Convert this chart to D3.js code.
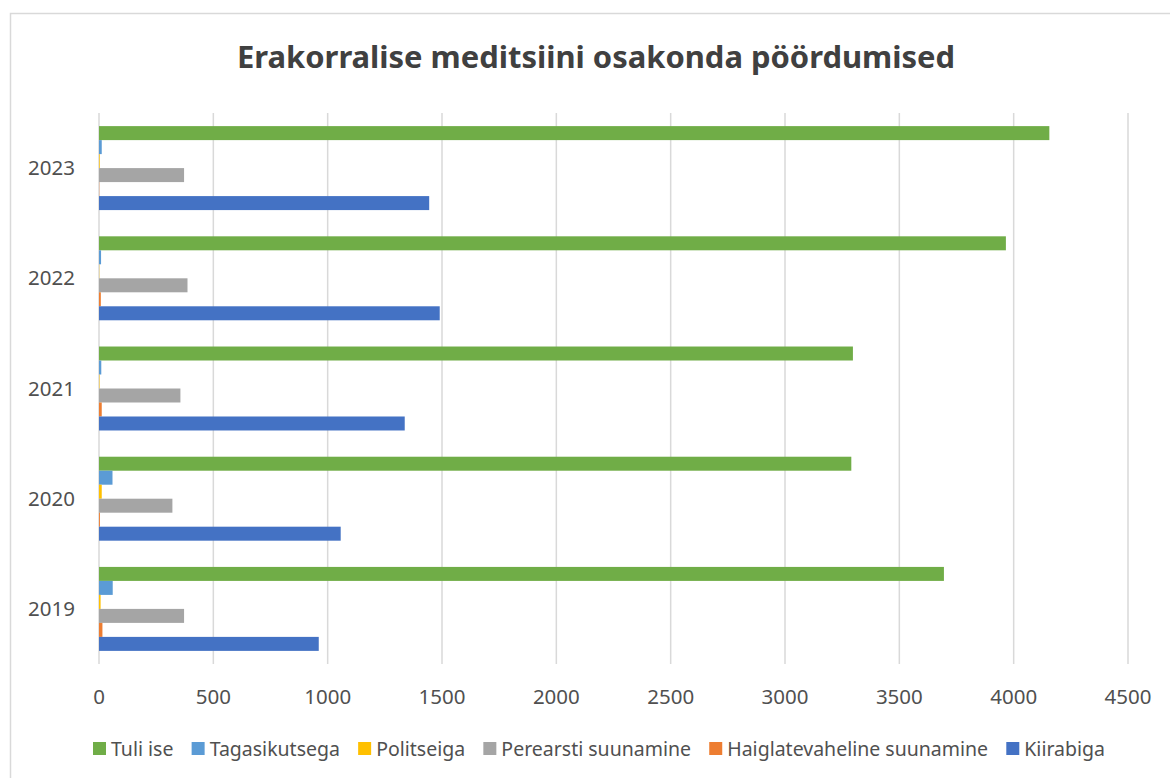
<!DOCTYPE html>
<html>
<head>
<meta charset="utf-8">
<script src="https://cdn.jsdelivr.net/npm/d3@7"></script>
<style>
  body { margin: 0; background: #fff; }
  svg { display: block; font-family: "Noto Sans", "Open Sans", sans-serif; }
</style>
</head>
<body>
<svg id="chart" width="1170" height="778"></svg>
<script>
// Data
var years = ["2019", "2020", "2021", "2022", "2023"];
var seriesNames = ["Tuli ise", "Tagasikutsega", "Politseiga", "Perearsti suunamine", "Haiglatevaheline suunamine", "Kiirabiga"];
var seriesColors = ["#70AD47", "#5B9BD5", "#FFC000", "#A5A5A5", "#ED7D31", "#4472C4"];
var tuliIse = [3695, 3290, 3297, 3966, 4156];
var tagasikutsega = [60, 59, 10, 9, 12];
var politseiga = [7, 12, 2, 1, 3];
var perearsti = [372, 321, 356, 387, 372];
var haiglatevaheline = [15, 4, 12, 8, 1];
var kiirabiga = [961, 1057, 1337, 1490, 1444];
var xTicks = [0, 500, 1000, 1500, 2000, 2500, 3000, 3500, 4000, 4500];

var seriesValues = [tuliIse, tagasikutsega, politseiga, perearsti, haiglatevaheline, kiirabiga];

var svg = d3.select("#chart");

// chart border (right and bottom edges run off the picture)
svg.append("rect")
  .attr("x", 10.5).attr("y", 13.5)
  .attr("width", 1200).attr("height", 800)
  .attr("fill", "none")
  .attr("stroke", "#d9d9d9")
  .attr("stroke-width", 1.5);

var plot = { left: 99, right: 1128, top: 113, bottom: 664 };

var x = d3.scaleLinear().domain([0, 4500]).range([plot.left, plot.right]);

// years bottom to top like Excel
var y = d3.scaleBand()
  .domain(years.slice().reverse())
  .range([plot.top, plot.bottom])
  .paddingInner(0.238)
  .paddingOuter(0.119);

var ySeries = d3.scaleBand()
  .domain(seriesNames)
  .range([0, y.bandwidth()]);

// gridlines
svg.append("g")
  .selectAll("line")
  .data(xTicks)
  .join("line")
  .attr("x1", function(d) { return x(d); })
  .attr("x2", function(d) { return x(d); })
  .attr("y1", plot.top)
  .attr("y2", plot.bottom)
  .attr("stroke", "#d9d9d9")
  .attr("stroke-width", 1.5);

// bars
var groups = svg.append("g")
  .selectAll("g")
  .data(years)
  .join("g")
  .attr("transform", function(d) { return "translate(0," + y(d) + ")"; });

groups.selectAll("rect")
  .data(function(yr) {
    return seriesNames.map(function(name, si) {
      return { name: name, value: seriesValues[si][years.indexOf(yr)], color: seriesColors[si] };
    });
  })
  .join("rect")
  .attr("x", x(0))
  .attr("y", function(d) { return ySeries(d.name); })
  .attr("width", function(d) { return x(d.value) - x(0); })
  .attr("height", ySeries.bandwidth())
  .attr("fill", function(d) { return d.color; });

// x axis labels
svg.append("g")
  .selectAll("text")
  .data(xTicks)
  .join("text")
  .attr("x", function(d) { return x(d); })
  .attr("y", 704)
  .attr("text-anchor", "middle")
  .attr("font-size", 20.5)
  .attr("fill", "#505050")
  .text(function(d) { return d; });

// y axis labels
svg.append("g")
  .selectAll("text")
  .data(years)
  .join("text")
  .attr("x", 75)
  .attr("y", function(d) { return y(d) + y.bandwidth() / 2 + 7; })
  .attr("text-anchor", "end")
  .attr("font-size", 20.5)
  .attr("fill", "#505050")
  .text(function(d) { return d; });

// title
svg.append("text")
  .attr("x", 596)
  .attr("y", 68)
  .attr("text-anchor", "middle")
  .attr("font-size", 31)
  .attr("font-weight", "bold")
  .attr("fill", "#404040")
  .attr("textLength", 718)
  .attr("lengthAdjust", "spacingAndGlyphs")
  .text("Erakorralise meditsiini osakonda pöördumised");

// legend
var legend = svg.append("g");
var items = legend.selectAll("g")
  .data(seriesNames)
  .join("g");

items.append("rect")
  .attr("width", 13)
  .attr("height", 13)
  .attr("y", 742)
  .attr("fill", function(d, i) { return seriesColors[i]; });

items.append("text")
  .attr("x", 18)
  .attr("y", 756)
  .attr("font-size", 19.5)
  .attr("fill", "#505050")
  .text(function(d) { return d; });

// lay legend items out in a row spanning the same width as the original
var legendStart = 93, legendEnd = 1105;
var widths = [];
items.each(function() { widths.push(this.getBBox().width); });
var gap = (legendEnd - legendStart - d3.sum(widths)) / (widths.length - 1);
items.attr("transform", function(d, i) {
  var off = legendStart + d3.sum(widths.slice(0, i)) + gap * i;
  return "translate(" + off + ",0)";
});
</script>
</body>
</html>
